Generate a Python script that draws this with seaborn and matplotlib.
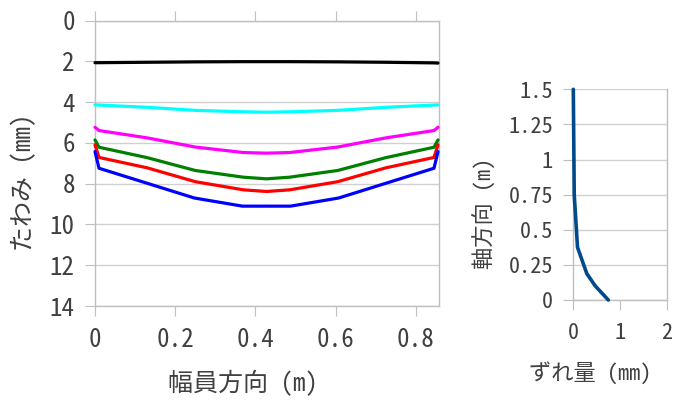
import pandas as pd
import matplotlib
matplotlib.use('Agg')
import matplotlib.pyplot as plt
import seaborn as sns

sns.set_style('white')
plt.rcParams['font.family'] = ['Noto Sans Mono CJK JP', 'DejaVu Sans Mono', 'Noto Sans CJK JP']
plt.rcParams['text.color'] = '#404040'

# deflection across the width (幅員方向, m) -> たわみ (mm)
x_fine = [0, 0.01, 0.13, 0.25, 0.37, 0.4275, 0.485, 0.605, 0.725, 0.845, 0.855]
y_black = [2.06, 2.06, 2.04, 2.02, 2.01, 2.01, 2.01, 2.02, 2.04, 2.07, 2.08]
y_cyan = [4.13, 4.14, 4.25, 4.4, 4.47, 4.49, 4.47, 4.4, 4.25, 4.14, 4.13]
y_magenta = [5.23, 5.39, 5.75, 6.2, 6.47, 6.5, 6.47, 6.2, 5.75, 5.39, 5.23]
y_green = [5.85, 6.21, 6.72, 7.35, 7.68, 7.76, 7.68, 7.35, 6.72, 6.21, 5.85]
y_red = [6.09, 6.71, 7.22, 7.9, 8.3, 8.38, 8.3, 7.9, 7.22, 6.71, 6.09]
x_blue = [0, 0.01, 0.2475, 0.3675, 0.4875, 0.6075, 0.845, 0.855]
y_blue = [6.42, 7.24, 8.7, 9.1, 9.1, 8.7, 7.24, 6.42]

# slip (ずれ量, mm) along the axis (軸方向, m)
shift = [0.75, 0.47, 0.29, 0.09, 0.02, 0.0]
axial = [0, 0.1, 0.1875, 0.375, 0.75, 1.5]

series = {'black': (x_fine, y_black), 'cyan': (x_fine, y_cyan),
          'magenta': (x_fine, y_magenta), 'green': (x_fine, y_green),
          'red': (x_fine, y_red), 'blue': (x_blue, y_blue)}
frames = []
for name, (xs, ys) in series.items():
    frames.append(pd.DataFrame({'x': xs, 'y': ys, 'case': name}))
df = pd.concat(frames, ignore_index=True)
palette = {'black': '#000000', 'cyan': '#00ffff', 'magenta': '#ff00ff',
           'green': '#008000', 'red': '#ff0000', 'blue': '#0000ff'}

df_shift = pd.DataFrame({'shift': shift, 'axial': axial})

W, H = 673, 403
fig = plt.figure(figsize=(W / 100, H / 100), dpi=100)
ax = fig.add_axes([95 / W, 1 - 306 / H, 344 / W, 285.3 / H])
ax2 = fig.add_axes([573.3 / W, 1 - 300 / H, 93.4 / W, 210.7 / H])

sns.lineplot(data=df, x='x', y='y', hue='case', palette=palette, sort=False,
             estimator=None, linewidth=2.3, legend=False, ax=ax)
sns.lineplot(data=df_shift, x='shift', y='axial', sort=False, estimator=None,
             color='#004a8c', linewidth=2.6, ax=ax2)
for a in (ax, ax2):
    for ln in a.get_lines():
        ln.set_clip_on(False)
        ln.set_zorder(3)

spine_c = '#bfbfbf'
grid_c = '#d0d0d0'

ax.set_xlim(0, 0.8575)
ax.set_ylim(14, 0)
ax.set_xticks([0, 0.2, 0.4, 0.6, 0.8])
ax.set_xticklabels(['0', '0.2', '0.4', '0.6', '0.8'])
ax.set_yticks(range(0, 15, 2))
ax.yaxis.grid(True, color=grid_c, linewidth=1)
ax.tick_params(axis='x', which='both', top=True, bottom=True, direction='out',
               length=7.5, color=spine_c, labelsize=18, pad=8, labelcolor='#404040')
ax.tick_params(axis='y', left=True, direction='out', length=7.5, color=spine_c,
               labelsize=18, pad=7, labelcolor='#404040')
ax.set_xlabel('')
ax.set_ylabel('')

ax2.set_xlim(0, 2)
ax2.set_ylim(0, 1.5)
ax2.set_xticks([0, 1, 2])
ax2.set_yticks([0, 0.25, 0.5, 0.75, 1, 1.25, 1.5])
ax2.set_yticklabels(['0', '0.25', '0.5', '0.75', '1', '1.25', '1.5'])
ax2.yaxis.grid(True, color=grid_c, linewidth=1)
ax2.tick_params(axis='x', bottom=True, direction='out', length=7.5, color=spine_c,
                labelsize=16, pad=8, labelcolor='#404040')
ax2.tick_params(axis='y', left=True, direction='out', length=7.5, color=spine_c,
                labelsize=16, pad=7, labelcolor='#404040')
ax2.set_xlabel('')
ax2.set_ylabel('')

for a in (ax, ax2):
    for s in a.spines.values():
        s.set_color(spine_c)
        s.set_linewidth(1)
ax2.spines['top'].set_visible(False)

fig.text(242.6 / W, 1 - 383 / H, '幅員方向 (m)', ha='center', va='center', fontsize=18)
fig.text(23 / W, 1 - 182.5 / H, 'たわみ (mm)', ha='center', va='center', fontsize=18,
         rotation=90)
fig.text(590 / W, 1 - 373 / H, 'ずれ量 (mm)', ha='center', va='center', fontsize=16)
fig.text(485 / W, 1 - 213 / H, '軸方向 (m)', ha='center', va='center', fontsize=16,
         rotation=90)

fig.savefig('out.png', dpi=100)
